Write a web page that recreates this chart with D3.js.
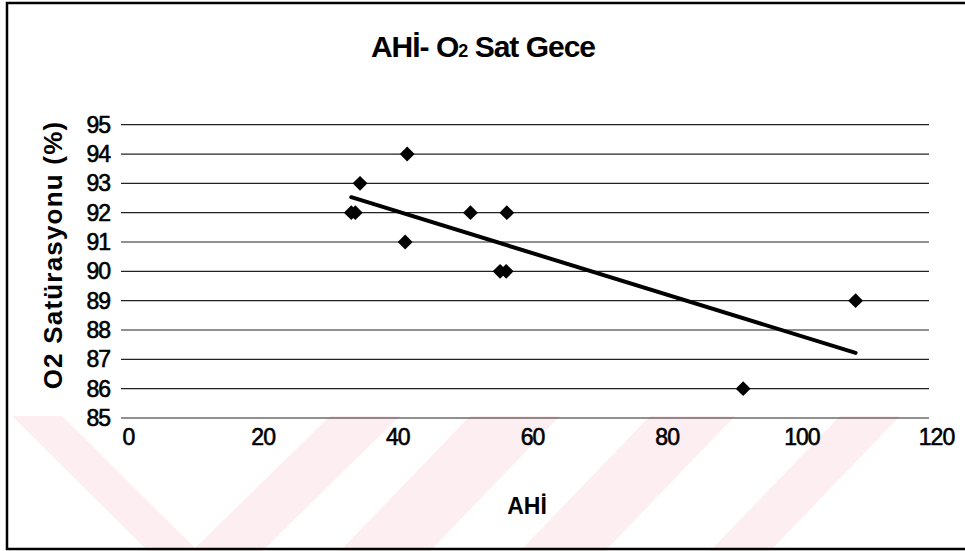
<!DOCTYPE html>
<html>
<head>
<meta charset="utf-8">
<script src="https://cdn.jsdelivr.net/npm/d3@7"></script>
<style>
  body { margin: 0; background: #fff; }
  svg { display: block; font-family: "Liberation Sans", Arial, sans-serif; }
</style>
</head>
<body>
<div id="chart"></div>
<script>
// AHİ values (x) and night O2 saturation (y)
const ahi = [34.2, 34.8, 35.5, 42.5, 42.2, 51.9, 57.3, 56.3, 57.2, 109.1, 92.4];
const o2sat = [92, 92, 93, 94, 91, 92, 92, 90, 90, 89, 86];
const xTicks = [0, 20, 40, 60, 80, 100, 120];
const yTicks = [85, 86, 87, 88, 89, 90, 91, 92, 93, 94, 95];

const width = 965, height = 551;

const svg = d3.select("#chart").append("svg")
  .attr("width", width)
  .attr("height", height);

// faint watermark stripes behind the chart
const marks = [
  [[12, 416], [62, 416], [198, 551], [148, 551]],
  [[330, 416], [400, 416], [262, 551], [192, 551]],
  [[470, 416], [560, 416], [430, 551], [340, 551]],
  [[650, 416], [735, 416], [605, 551], [520, 551]],
  [[840, 416], [900, 416], [770, 551], [710, 551]]
];
svg.selectAll(".wm")
  .data(marks)
  .enter().append("polygon")
  .attr("class", "wm")
  .attr("points", d => d.map(p => p.join(",")).join(" "))
  .attr("fill", "#fdeef1");

// chart border
svg.append("rect")
  .attr("x", 7).attr("y", 3)
  .attr("width", 970).attr("height", 546)
  .attr("fill", "none")
  .attr("stroke", "#000")
  .attr("stroke-width", 2.5);

const x = d3.scaleLinear().domain([0, 120]).range([121, 929]);
const y = d3.scaleLinear().domain([85, 95]).range([418, 124.7]);

// horizontal gridlines
svg.append("g")
  .selectAll("line")
  .data(yTicks)
  .enter().append("line")
  .attr("x1", x(0)).attr("x2", x(120))
  .attr("y1", d => y(d)).attr("y2", d => y(d))
  .attr("stroke", "#222")
  .attr("stroke-width", 1.2);

// y axis labels
const yAxis = d3.axisLeft(y).tickValues(yTicks).tickSize(0).tickPadding(0);
const gy = svg.append("g")
  .attr("transform", "translate(110,0)")
  .call(yAxis);
gy.select(".domain").remove();
gy.selectAll("text")
  .attr("font-size", 23)
  .attr("font-family", "Liberation Sans, Arial, sans-serif")
  .attr("letter-spacing", -1)
  .attr("stroke", "#000")
  .attr("stroke-width", 0.6)
  .attr("fill", "#000");

// x axis labels (sit slightly right of the plot ticks, as in the original)
const xAxis = d3.axisBottom(x).tickValues(xTicks).tickSize(0).tickPadding(0);
const gx = svg.append("g")
  .attr("transform", "translate(7,429)")
  .call(xAxis);
gx.select(".domain").remove();
gx.selectAll("text")
  .attr("font-size", 23)
  .attr("font-family", "Liberation Sans, Arial, sans-serif")
  .attr("letter-spacing", -1)
  .attr("stroke", "#000")
  .attr("stroke-width", 0.6)
  .attr("fill", "#000");

// linear trend line (least squares)
const n = ahi.length;
const mx = d3.mean(ahi), my = d3.mean(o2sat);
let sxy = 0, sxx = 0;
for (let i = 0; i < n; i++) {
  sxy += (ahi[i] - mx) * (o2sat[i] - my);
  sxx += (ahi[i] - mx) * (ahi[i] - mx);
}
const slope = sxy / sxx;
const intercept = my - slope * mx;
const [xmin, xmax] = d3.extent(ahi);

svg.append("line")
  .attr("x1", x(xmin)).attr("y1", y(intercept + slope * xmin))
  .attr("x2", x(xmax)).attr("y2", y(intercept + slope * xmax))
  .attr("stroke", "#000")
  .attr("stroke-width", 4)
  .attr("stroke-linecap", "round");

// diamond markers
const diamond = d3.symbol().type(d3.symbolSquare).size(110);
svg.selectAll(".pt")
  .data(ahi.map((d, i) => [d, o2sat[i]]))
  .enter().append("path")
  .attr("class", "pt")
  .attr("d", diamond)
  .attr("transform", d => `translate(${x(d[0])},${y(d[1])}) rotate(45)`)
  .attr("fill", "#000");

// title
const title = svg.append("text")
  .attr("x", 483).attr("y", 57)
  .attr("text-anchor", "middle")
  .attr("font-size", 30)
  .attr("font-weight", "bold")
  .attr("letter-spacing", -1)
  .attr("fill", "#000");
title.append("tspan").text("AHİ- O");
title.append("tspan").attr("font-size", 18).text("2");
title.append("tspan").text(" Sat Gece");

// axis titles
svg.append("text")
  .attr("x", 527).attr("y", 514)
  .attr("text-anchor", "middle")
  .attr("font-size", 23)
  .attr("font-weight", "bold")
  .text("AHİ");

svg.append("text")
  .attr("transform", "translate(62,255) rotate(-90)")
  .attr("text-anchor", "middle")
  .attr("font-size", 26)
  .attr("font-weight", "bold")
  .attr("letter-spacing", 1.2)
  .text("O2 Satürasyonu (%)");
</script>
</body>
</html>
